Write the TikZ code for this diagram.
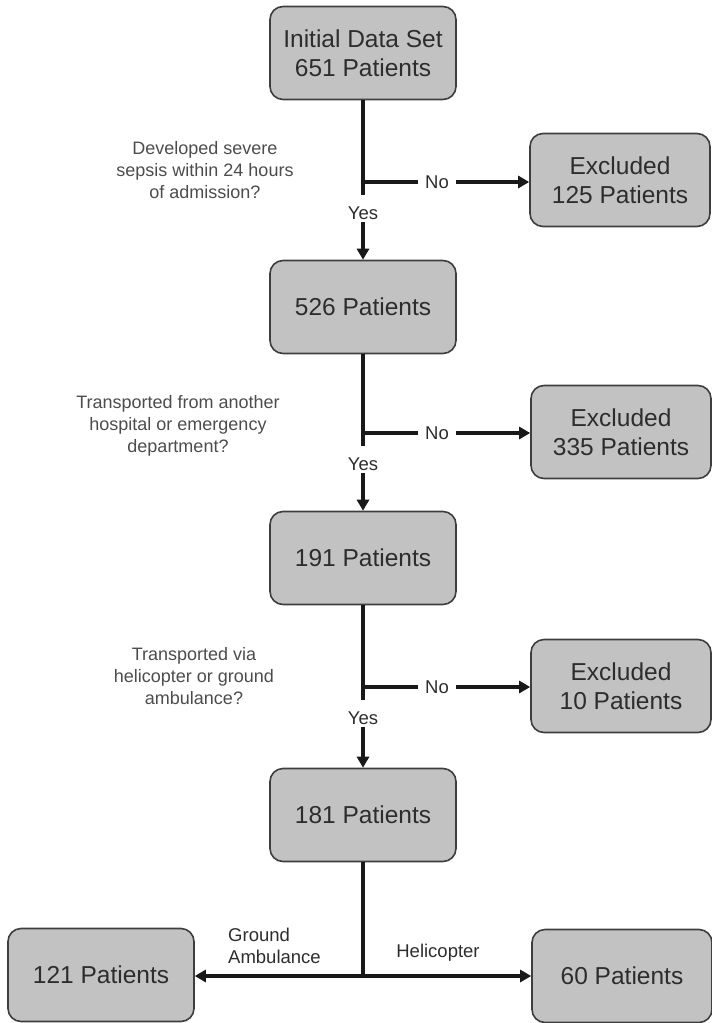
\documentclass[tikz,border=0pt]{standalone}
\usepackage{fontspec}
\setmainfont{Liberation Sans}
\usepackage{tikz}
\usetikzlibrary{arrows.meta,calc,positioning}
\definecolor{boxfill}{RGB}{194,194,194}
\definecolor{boxline}{RGB}{62,62,62}
\definecolor{txtgray}{RGB}{45,45,45}
\tikzset{%
	patbox/.style   = {draw=boxline, fill=boxfill, rounded corners=13pt, line width=1.6pt, minimum width=186pt, minimum height=93pt, align=center, text=txtgray, font=\fontsize{24.5}{29}\selectfont},
	exbox/.style    = {patbox, minimum width=180pt},
	question/.style = {align=center, text=txtgray!85, font=\fontsize{18}{22}\selectfont},
	lbl/.style      = {text=txtgray, font=\fontsize{18.5}{22}\selectfont, inner ysep=2pt, inner xsep=7pt},
	flow/.style     = {line width=3.2pt, black!90},
	arrow/.style    = {flow, -{Triangle[length=11pt,width=12pt]}},
}
\begin{document}
\begin{tikzpicture}[x=1pt,y=-1pt]
	\useasboundingbox (0,0) rectangle (712,1023);
	
	\node[patbox] (init) at (363,53) {Initial Data Set\\651 Patients};
	\node[patbox] (p526) at (363,307) {526 Patients};
	\node[patbox] (p191) at (363,558) {191 Patients};
	\node[patbox] (p181) at (363,815) {181 Patients};
	\node[exbox] (ex125) at (620,180) {Excluded\\125 Patients};
	\node[exbox] (ex335) at (621,432) {Excluded\\335 Patients};
	\node[exbox] (ex10) at (621,686) {Excluded\\10 Patients};
	\node[patbox] (p121) at (101,975) {121 Patients};
	\node[exbox] (p60) at (622,976) {60 Patients};
	
	\node[question] (q1) at (205,170) {Developed severe\\sepsis within 24 hours\\of admission?};
	\node[question] (q2) at (178,426) {Transported from another\\hospital or emergency\\department?};
	\node[question] (q3) at (194,676) {Transported via\\helicopter or ground\\ambulance?};
	
	\foreach \up/\down/\ex/\y [count=\i] in {init/p526/ex125/182, p526/p191/ex335/433, p191/p181/ex10/687}{
		\coordinate (j\i) at (363,\y);
		\node[lbl] (no\i) at ($(j\i)+(74,0)$) {No};
		\node[lbl] (yes\i) at ($(j\i)+(0,31)$) {Yes};
		\draw[flow] (\up.south) -- ($(j\i)+(0,13)$);
		\draw[flow] (j\i) -- (no\i);
		\draw[arrow] (no\i) -- (\ex.west |- no\i);
		\draw[arrow] (yes\i) -- (\down);
	}
	
	\coordinate (j4) at (363,976);
	\draw[flow] (p181) -- (j4);
	\draw[arrow] (j4) -- (p121.east |- j4);
	\draw[arrow] (j4) -- (p60.west |- j4);
	\node[lbl, align=left, anchor=west, inner xsep=2pt] (ground) at (226,946) {Ground\\Ambulance};
	\node[lbl] (heli) at (438,953) {Helicopter};
\end{tikzpicture}
\end{document}
